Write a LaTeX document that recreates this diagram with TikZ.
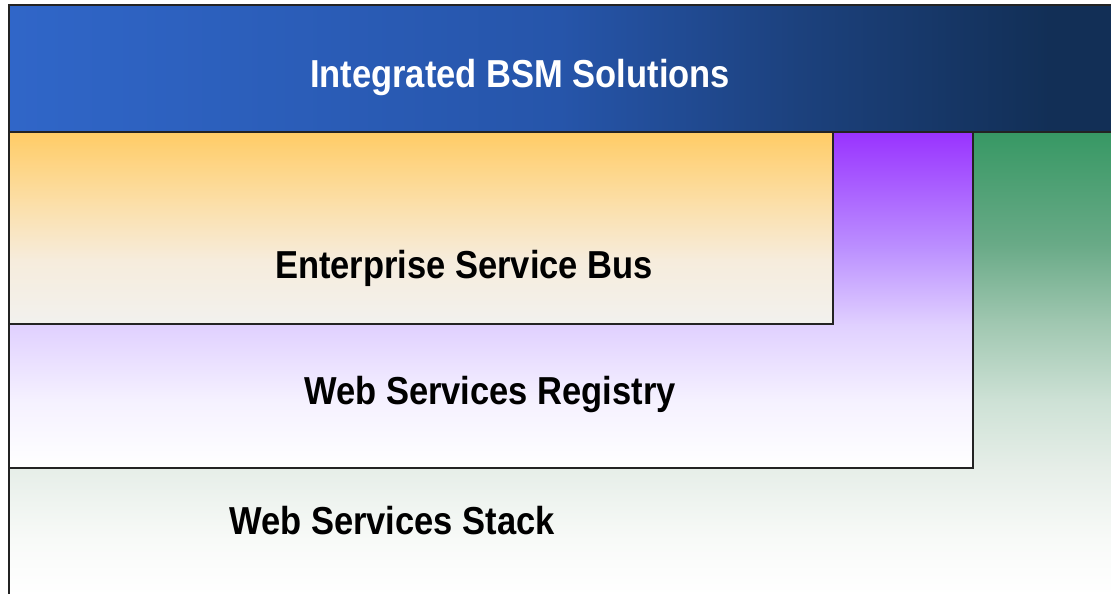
\documentclass[tikz,border=0pt]{standalone}
\usepackage{fontspec}
\setmainfont{Liberation Sans}
\usepackage{graphicx}
\definecolor{tb0}{RGB}{48,102,200}
\definecolor{tb1}{RGB}{38,85,170}
\definecolor{tb2}{RGB}{28,65,125}
\definecolor{tb3}{RGB}{18,47,86}
\definecolor{es0}{RGB}{255,204,102}
\definecolor{es1}{RGB}{252,222,165}
\definecolor{es2}{RGB}{246,236,220}
\definecolor{es3}{RGB}{242,241,238}
\definecolor{rg0}{RGB}{153,51,255}
\definecolor{rg1}{RGB}{188,145,255}
\definecolor{rg2}{RGB}{224,208,255}
\definecolor{rg3}{RGB}{245,241,255}
\definecolor{rg4}{RGB}{255,255,255}
\definecolor{st0}{RGB}{55,152,100}
\definecolor{st1}{RGB}{105,170,135}
\definecolor{st2}{RGB}{158,198,175}
\definecolor{st3}{RGB}{205,225,213}
\definecolor{st4}{RGB}{230,238,232}
\definecolor{st5}{RGB}{248,250,248}
\definecolor{st6}{RGB}{255,255,255}
\definecolor{bord}{RGB}{35,35,35}
\newcommand\vsh[6]{\shade[top color=#4,bottom color=#6] (#1,#3) rectangle (#2,#5);}
\newcommand\hsh[4]{\shade[left color=#2,right color=#4] (#1,462) rectangle (#3,589);}
\tikzset{
  lbl/.style={anchor=base, inner sep=0pt, font=\fontsize{39}{45}\selectfont\bfseries},
  edge/.style={draw=bord, line width=2pt}
}
\begin{document}
\begin{tikzpicture}[x=1pt,y=1pt]
\useasboundingbox (0,0) rectangle (1111,594);
\fill[white] (0,0) rectangle (1111,594);
\clip (0,0) rectangle (1111,594);
% stack
\vsh{9}{1112}{462}{st0}{349}{st1}
\vsh{9}{1112}{349.5}{st1}{274}{st2}
\vsh{9}{1112}{274.5}{st2}{194}{st3}
\vsh{9}{1112}{194.5}{st3}{126}{st4}
\vsh{9}{1112}{126.5}{st4}{54}{st5}
\vsh{9}{1112}{54.5}{st5}{-1}{st6}
% registry
\vsh{9}{973}{462}{rg0}{344}{rg1}
\vsh{9}{973}{344.5}{rg1}{269}{rg2}
\vsh{9}{973}{269.5}{rg2}{194}{rg3}
\vsh{9}{973}{194.5}{rg3}{126}{rg4}
% ESB
\vsh{9}{833}{462}{es0}{394}{es1}
\vsh{9}{833}{394.5}{es1}{334}{es2}
\vsh{9}{833}{334.5}{es2}{270}{es3}
% top bar
\hsh{9}{tb0}{560}{tb1}
\hsh{559.5}{tb1}{800}{tb2}
\hsh{799.5}{tb2}{1050}{tb3}
\fill[tb3] (1049.5,462) rectangle (1112,589);
% borders
\draw[edge] (9,0) -- (9,589) -- (1112,589);
\draw[edge] (9,462) -- (1112,462);
\draw[edge] (833,462) -- (833,270) -- (9,270);
\draw[edge] (973,462) -- (973,126) -- (9,126);
% labels
\node[lbl, text=white] (bsm) at (520,506) {\scalebox{0.885}[1]{Integrated BSM Solutions}};
\node[lbl] (esb) at (464,315) {\scalebox{0.885}[1]{Enterprise Service Bus}};
\node[lbl] (reg) at (490,189) {\scalebox{0.885}[1]{Web Services Registry}};
\node[lbl] (stk) at (392,59) {\scalebox{0.885}[1]{Web Services Stack}};
\end{tikzpicture}
\end{document}
